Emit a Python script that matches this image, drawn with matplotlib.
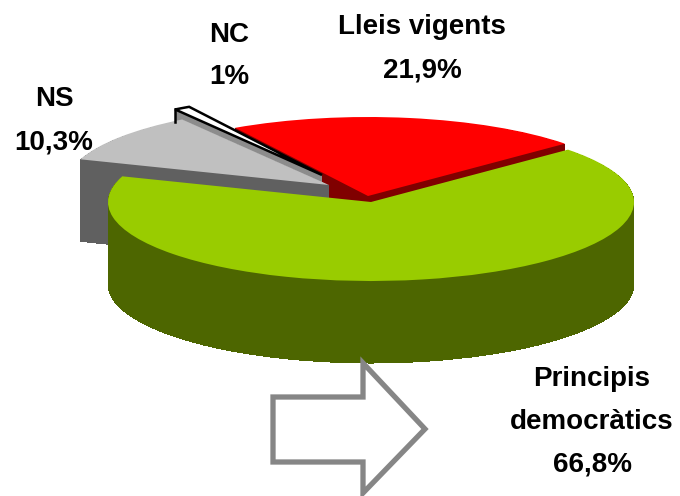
import matplotlib
matplotlib.use("Agg")
import matplotlib.pyplot as plt
from matplotlib.patches import Polygon
import numpy as np

plt.rcParams['font.family'] = ['Liberation Sans', 'DejaVu Sans']

# slices, counter clockwise from the right cut of the red one
names = ["Lleis vigents", "NC", "NS", "Principis\ndemocràtics"]
labels = ["21,9%", "1%", "10,3%", "66,8%"]
values = [21.9, 1, 10.3, 66.8]
top_colors = ['#ff0000', '#ffffff', '#c0c0c0', '#99cc00']
side_colors = ['#800000', '#8c8c8c', '#606060', '#4d6600']

# picture geometry, in pixels
W, H = 680, 496
cx, cy = 371, 201
rx, ry = 263, 79
depth = 82
start = 41.5
tips = [(368, 196), (322, 175), (329, 185), (371, 202)]
label_pos = [(422, 49), (229, 56), (54, 121), (592, 422)]
arrow_px = [(273, 397), (363, 397), (363, 363), (425, 429), (363, 493), (363, 462), (273, 462)]


def px(x, y):
    return (x - cx) / rx, (cy - y) / ry


fig = plt.figure(figsize=(W / 100, H / 100), dpi=100)
ax = fig.add_axes([0, 0, 1, 1])

for i in range(len(values)):
    tx, ty = tips[i]
    # the side of the slice is the same wedge stacked downwards
    side = ['none'] * 4
    side[i] = side_colors[i]
    for d in range(depth, 0, -1):
        ax.pie(values, colors=side, startangle=start, center=px(tx, ty + d),
               wedgeprops={'linewidth': 0, 'antialiased': False})
    top = ['none'] * 4
    top[i] = top_colors[i]
    wedges, _ = ax.pie(values, colors=top, startangle=start, center=px(tx, ty),
                       wedgeprops={'linewidth': 0})
    if names[i] == "NC":
        wedges[i].set_edgecolor('black')
        wedges[i].set_linewidth(1.8)
        a = np.deg2rad(wedges[i].theta2)
        x0, y0 = px(tx, ty)
        ax.plot([x0 + np.cos(a), x0 + np.cos(a)],
                [y0 + np.sin(a), y0 + np.sin(a) - 13 / ry],
                color='black', lw=1.8)

ax.add_patch(Polygon([px(x, y) for x, y in arrow_px], closed=True, facecolor='white',
                     edgecolor='#868686', linewidth=3.8, joinstyle='miter', zorder=20))

for name, label, (x, y) in zip(names, labels, label_pos):
    lx, ly = px(x, y)
    ax.text(lx, ly, name + "\n" + label, ha='center', va='center', fontsize=20,
            fontweight='bold', color='black', linespacing=1.85, zorder=30)

ax.set_aspect('auto')
ax.set_xlim(px(0, 0)[0], px(W, 0)[0])
ax.set_ylim(px(0, H)[1], px(0, 0)[1])
ax.axis('off')

fig.savefig("out.png", dpi=100)
